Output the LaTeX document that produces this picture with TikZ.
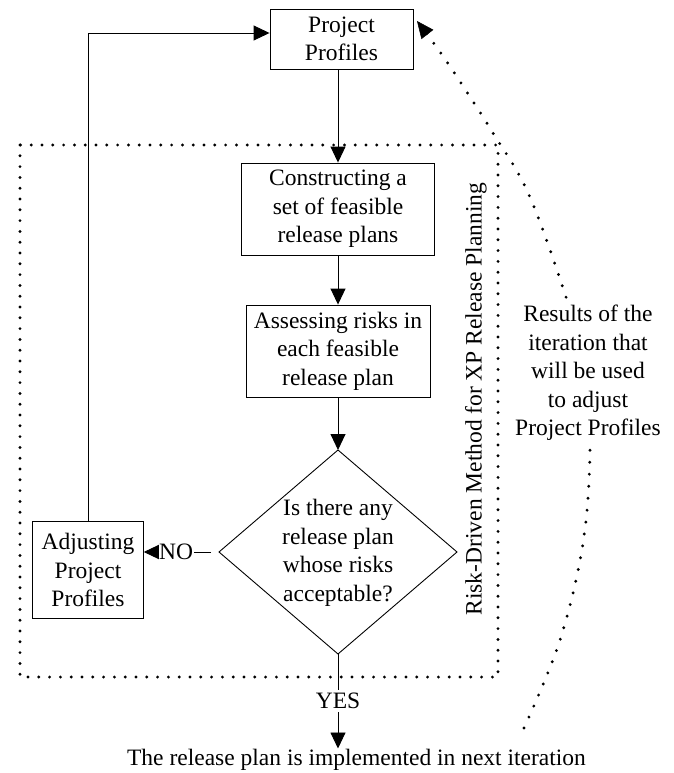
\documentclass[tikz,border=0pt]{standalone}
\usepackage{fontspec}
\setmainfont{Liberation Serif}
\usetikzlibrary{arrows.meta}
\begin{document}
\begin{tikzpicture}[x=1pt,y=-1pt,
  every node/.style={font=\fontsize{23.5}{28.5}\selectfont, align=center},
  box/.style={draw, line width=0.9pt, inner sep=0pt},
  conn/.style={draw, line width=0.9pt, -{Triangle[length=16pt,width=15pt]}},
  dotbox/.style={draw, line width=3.2pt, line cap=round, dash pattern=on 0pt off 10.8pt},
  dotcurve/.style={draw, line width=3.2pt, line cap=round, dash pattern=on 0pt off 12pt,
    -{Triangle[length=17pt,width=15pt,line width=0.5pt]}},
  lbl/.style={fill=white}]
\useasboundingbox (0,0) rectangle (673,773);
% boxes
\node[box, minimum width=143pt, minimum height=60pt] (pp) at (341.5,39) {Project\\Profiles};
\node[box, minimum width=193pt, minimum height=92pt] (c1) at (338,209) {Constructing a\\set of feasible\\release plans};
\node[box, minimum width=184pt, minimum height=92pt] (c2) at (338,351) {Assessing risks in\\each feasible\\release plan};
\node[box, minimum width=110.6pt, minimum height=96.3pt] (adj) at (88,570) {Adjusting\\Project\\Profiles};
% decision diamond
\node[inner sep=0pt] (dq) at (338,553) {Is there any\\release plan\\whose risks\\acceptable?};
\coordinate (dt) at (338,450);
\coordinate (db) at (338,654);
\coordinate (dl) at (219,552);
\coordinate (dr) at (457,552);
\draw[line width=0.9pt] (dt) -- (dr) -- (db) -- (dl) -- cycle;
% final text
\node[anchor=base, inner sep=0pt] (bt) at (356.5,765) {The release plan is implemented in next iteration};
% dotted frame and its title
\draw[dotbox] (20,145) rectangle (498,677);
\node[rotate=90, inner sep=0pt] (rd) at (476,399) {Risk-Driven Method for XP Release Planning};
% connectors
\draw[conn] (pp.south -| c1.north) -- (c1.north);
\draw[conn] (c1.south) -- (c2.north);
\draw[conn] (c2.south) -- (dt);
\draw[conn, shorten <=8pt] (dl) -- node[pos=0.57, lbl, inner sep=0.5pt]{NO} (adj.east |- dl);
\draw[conn] (db) -- node[lbl, inner xsep=2pt, inner ysep=3pt]{YES} (bt.north -| db);
\draw[conn] (adj.north) |- ([yshift=6pt]pp.west);
% feedback curve
\coordinate (cs) at (524,728);
\coordinate (ce) at (417,21);
\draw[dotcurve] plot[smooth, tension=0.6] coordinates {(cs) (560,640) (583,543) (590,448) (585,365) (567,300) (529,195) (493,133) (447,62) (ce)};
\node[lbl, inner sep=2pt] (res) at (588,373) {Results of the\\iteration that\\will be used\\to adjust\\Project Profiles};
\end{tikzpicture}
\end{document}
